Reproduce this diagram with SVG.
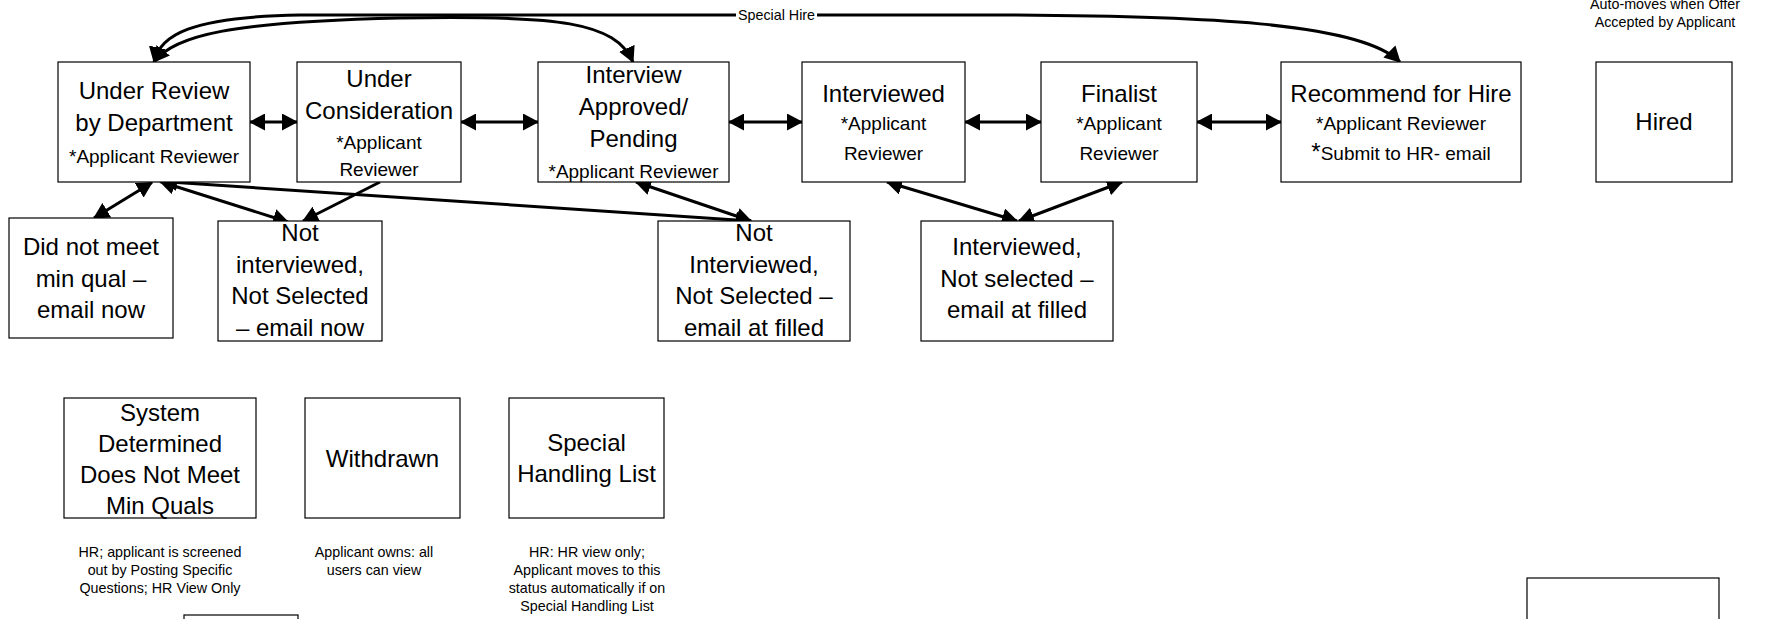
<svg xmlns="http://www.w3.org/2000/svg" width="1765" height="619" viewBox="0 0 1765 619">
<defs>
<marker id="ah" viewBox="0 0 16 17" refX="15" refY="8.5" markerWidth="16" markerHeight="17" markerUnits="userSpaceOnUse" orient="auto-start-reverse">
<path d="M0,0 L16,8.5 L0,17 z" fill="#000"/>
</marker>
<style>
.box{fill:#fff;stroke:#000;stroke-width:1.2}
text{font-family:"Liberation Sans",Arial,sans-serif;fill:#000;text-anchor:middle}
.big{font-size:24px}
.mid{font-size:19px}
.sm{font-size:14.3px}
.c{fill:none;stroke:#000;stroke-width:3;marker-end:url(#ah)}
.b{marker-start:url(#ah)}
</style>
</defs>
<rect width="1765" height="619" fill="#fff"/>

<g id="connectors">
<path class="c b" d="M250,122 L297,122"/>
<path class="c b" d="M461,122 L538,122"/>
<path class="c b" d="M729,122 L802,122"/>
<path class="c b" d="M965,122 L1041,122"/>
<path class="c b" d="M1197,122 L1281,122"/>
<path class="c b" d="M94,218 L152,182.5"/>
<path class="c b" d="M288,222 L160,181.5"/>
<path class="c" d="M380,182 L303,221"/>
<path class="c b" d="M162,181.5 L751,221"/>
<path class="c b" d="M636,182 L751,221"/>
<path class="c b" d="M887,182 L1017,221"/>
<path class="c b" d="M1122,182 L1019,221"/>
<path class="c b" d="M154,62 C175,35 230,22 400,18 C560,15 615,22 633,62"/>
<path class="c b" d="M154,62 C160,35 190,17 300,15 L1000,15 C1200,16 1360,22 1400,62"/>
<rect x="736" y="7" width="81" height="16" fill="#fff"/>
<text class="sm" x="776.5" y="19.5">Special Hire</text>
</g>

<g id="n-under-review">
<rect class="box" x="58" y="62" width="192" height="120"/>
<text class="big" x="154" y="99">Under Review</text>
<text class="big" x="154" y="131">by Department</text>
<text class="mid" x="154" y="163">*Applicant Reviewer</text>
</g>
<g id="n-under-consideration">
<rect class="box" x="297" y="62" width="164" height="120"/>
<text class="big" x="379" y="87">Under</text>
<text class="big" x="379" y="119">Consideration</text>
<text class="mid" x="379" y="149">*Applicant</text>
<text class="mid" x="379" y="176">Reviewer</text>
</g>
<g id="n-interview-approved">
<rect class="box" x="538" y="62" width="191" height="120"/>
<text class="big" x="633.5" y="83">Interview</text>
<text class="big" x="633.5" y="115">Approved/</text>
<text class="big" x="633.5" y="147">Pending</text>
<text class="mid" x="633.5" y="177.5">*Applicant Reviewer</text>
</g>
<g id="n-interviewed">
<rect class="box" x="802" y="62" width="163" height="120"/>
<text class="big" x="883.5" y="102">Interviewed</text>
<text class="mid" x="883.5" y="130">*Applicant</text>
<text class="mid" x="883.5" y="160">Reviewer</text>
</g>
<g id="n-finalist">
<rect class="box" x="1041" y="62" width="156" height="120"/>
<text class="big" x="1119" y="102">Finalist</text>
<text class="mid" x="1119" y="130">*Applicant</text>
<text class="mid" x="1119" y="160">Reviewer</text>
</g>
<g id="n-recommend">
<rect class="box" x="1281" y="62" width="240" height="120"/>
<text class="big" x="1401" y="102">Recommend for Hire</text>
<text class="mid" x="1401" y="130">*Applicant Reviewer</text>
<text class="mid" x="1401" y="160"><tspan class="big">*</tspan>Submit to HR- email</text>
</g>
<g id="n-hired">
<rect class="box" x="1596" y="62" width="136" height="120"/>
<text class="big" x="1664" y="130">Hired</text>
<text class="sm" x="1665" y="9">Auto-moves when Offer</text>
<text class="sm" x="1665" y="27">Accepted by Applicant</text>
</g>
<g id="n-did-not-meet">
<rect class="box" x="9" y="218" width="164" height="120"/>
<text class="big" x="91" y="255">Did not meet</text>
<text class="big" x="91" y="286.5">min qual –</text>
<text class="big" x="91" y="318">email now</text>
</g>
<g id="n-not-interviewed-now">
<rect class="box" x="218" y="221" width="164" height="120"/>
<text class="big" x="300" y="241">Not</text>
<text class="big" x="300" y="272.5">interviewed,</text>
<text class="big" x="300" y="304">Not Selected</text>
<text class="big" x="300" y="335.5">– email now</text>
</g>
<g id="n-not-interviewed-filled">
<rect class="box" x="658" y="221" width="192" height="120"/>
<text class="big" x="754" y="241">Not</text>
<text class="big" x="754" y="272.5">Interviewed,</text>
<text class="big" x="754" y="304">Not Selected –</text>
<text class="big" x="754" y="335.5">email at filled</text>
</g>
<g id="n-interviewed-not-selected">
<rect class="box" x="921" y="221" width="192" height="120"/>
<text class="big" x="1017" y="255">Interviewed,</text>
<text class="big" x="1017" y="286.5">Not selected –</text>
<text class="big" x="1017" y="318">email at filled</text>
</g>
<g id="n-system-determined">
<rect class="box" x="64" y="398" width="192" height="120"/>
<text class="big" x="160" y="420.5">System</text>
<text class="big" x="160" y="451.5">Determined</text>
<text class="big" x="160" y="482.5">Does Not Meet</text>
<text class="big" x="160" y="513.5">Min Quals</text>
<text class="sm" x="160" y="557">HR; applicant is screened</text>
<text class="sm" x="160" y="575">out by Posting Specific</text>
<text class="sm" x="160" y="593">Questions; HR View Only</text>
</g>
<g id="n-withdrawn">
<rect class="box" x="305" y="398" width="155" height="120"/>
<text class="big" x="382.5" y="467">Withdrawn</text>
<text class="sm" x="374" y="557">Applicant owns: all</text>
<text class="sm" x="374" y="575">users can view</text>
</g>
<g id="n-special-handling">
<rect class="box" x="509" y="398" width="155" height="120"/>
<text class="big" x="586.5" y="450.5">Special</text>
<text class="big" x="586.5" y="481.5">Handling List</text>
<text class="sm" x="587" y="557">HR: HR view only;</text>
<text class="sm" x="587" y="575">Applicant moves to this</text>
<text class="sm" x="587" y="593">status automatically if on</text>
<text class="sm" x="587" y="611">Special Handling List</text>
</g>
<g id="n-blank-1">
<rect class="box" x="184" y="615" width="114" height="30"/>
</g>
<g id="n-blank-2">
<rect class="box" x="1527" y="578" width="192" height="60"/>
</g>
</svg>
